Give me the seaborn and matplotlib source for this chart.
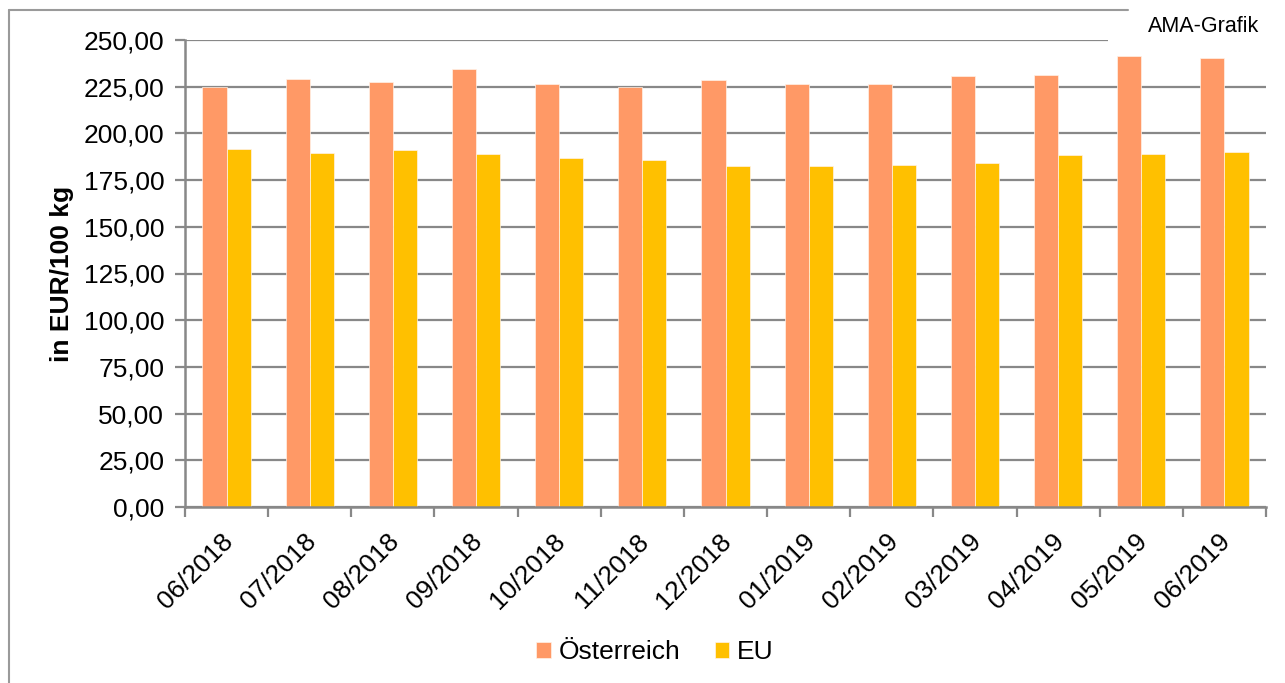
import matplotlib
matplotlib.use("Agg")
import matplotlib.pyplot as plt
import matplotlib.transforms as mtransforms
from matplotlib.patches import Rectangle
from matplotlib.lines import Line2D
from matplotlib.ticker import FixedLocator, FuncFormatter
import seaborn as sns
import pandas as pd

months = ["06/2018", "07/2018", "08/2018", "09/2018", "10/2018", "11/2018", "12/2018",
          "01/2019", "02/2019", "03/2019", "04/2019", "05/2019", "06/2019"]
oesterreich = [224.8, 228.9, 227.3, 234.3, 226.2, 224.8, 228.8,
               226.4, 226.6, 230.5, 231.2, 241.7, 240.5]
eu = [191.4, 189.5, 191.0, 188.8, 186.6, 185.7, 182.8,
      182.7, 183.2, 184.4, 188.2, 189.1, 190.0]
series_names = ["Österreich", "EU"]
colors = ["#FF9966", "#FFC000"]
y_ticks = [0, 25, 50, 75, 100, 125, 150, 175, 200, 225, 250]

df = pd.DataFrame({
    "Monat": months * 2,
    "Wert": oesterreich + eu,
    "Serie": [series_names[0]] * len(months) + [series_names[1]] * len(months),
})

sns.set_theme(style="white")
plt.rcParams["font.family"] = ["Liberation Sans", "DejaVu Sans"]
plt.rcParams["text.color"] = "black"
plt.rcParams["axes.labelcolor"] = "black"

W, H = 1285, 683
fig = plt.figure(figsize=(W / 100, H / 100), dpi=100)
ax_l, ax_r, ax_t, ax_b = 185, 1266, 40, 507
ax = fig.add_axes([ax_l / W, 1 - ax_b / H, (ax_r - ax_l) / W, (ax_b - ax_t) / H])

sns.barplot(data=df, x="Monat", y="Wert", hue="Serie", order=months,
            hue_order=series_names, palette=colors, width=0.58, gap=0,
            saturation=1, edgecolor="#FFF3E8", linewidth=0.5, ax=ax, legend=True)

ax.set_xlim(-0.5, len(months) - 0.5)
ax.set_ylim(0, 250)
ax.yaxis.set_major_locator(FixedLocator(y_ticks))
ax.yaxis.set_major_formatter(FuncFormatter(lambda v, p: f"{v:.2f}".replace(".", ",")))
ax.grid(axis="y", color="#888888", linewidth=1.6)
ax.set_axisbelow(True)
for s in ["top", "right"]:
    ax.spines[s].set_visible(False)
for s in ["left", "bottom"]:
    ax.spines[s].set_color("#888888")
    ax.spines[s].set_linewidth(1.8)

ax.tick_params(axis="y", which="major", left=True, length=7, width=1.6, color="#888888",
               labelsize=19, labelcolor="black", pad=8)
ax.set_xticks(range(len(months)))
ax.set_xticklabels(months, rotation=45, ha="right", rotation_mode="anchor")
ax.tick_params(axis="x", which="major", length=0, labelsize=19, labelcolor="black", pad=16)
offset = mtransforms.ScaledTranslation(-6 / 100, 0, fig.dpi_scale_trans)
for lbl in ax.get_xticklabels():
    lbl.set_transform(lbl.get_transform() + offset)
ax.set_xticks([i - 0.5 for i in range(len(months) + 1)], minor=True)
ax.tick_params(axis="x", which="minor", bottom=True, length=7, width=1.6, color="#888888")

ax.set_xlabel("")
ax.set_ylabel("in EUR/100 kg", fontsize=19, fontweight="bold", color="black")
ax.yaxis.set_label_coords((62 - ax_l) / (ax_r - ax_l), 0.5)
ax.yaxis.label.set_va("center")

handles, labels = ax.get_legend_handles_labels()
ax.get_legend().remove()
fig.legend(handles, labels, loc="center", bbox_to_anchor=(655 / W, 1 - 652 / H),
           ncol=2, frameon=False, fontsize=19, handlelength=0.55, handleheight=0.55,
           handletextpad=0.3, columnspacing=1.3)

# AMA-Grafik box (covers top gridline on the right)
fig.add_artist(Rectangle((1108 / W, 1 - 44 / H), 1, 1, transform=fig.transFigure,
                         facecolor="white", edgecolor="none", zorder=6))
fig.text(1204 / W, 1 - 27 / H, "AMA-Grafik", ha="center", va="center", fontsize=15.5,
         zorder=7)
# outer frame
fig.add_artist(Line2D([9 / W, 9 / W], [-0.1, 1 - 10 / H], transform=fig.transFigure,
                      color="#9A9A9A", linewidth=1.5, zorder=8))
fig.add_artist(Line2D([9 / W, 1128 / W], [1 - 10 / H, 1 - 10 / H], transform=fig.transFigure,
                      color="#9A9A9A", linewidth=1.5, zorder=8))

fig.savefig("out.png", dpi=100)
